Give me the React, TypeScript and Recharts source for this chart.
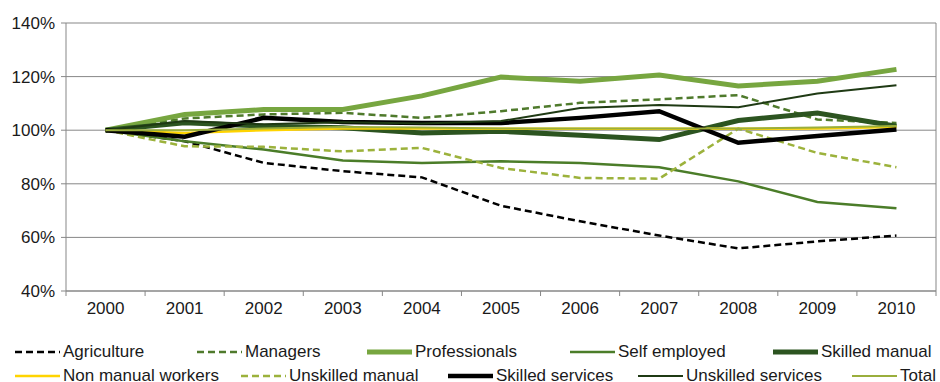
import { CartesianGrid, Line, LineChart, XAxis, YAxis } from "recharts";

const years = ["2000", "2001", "2002", "2003", "2004", "2005", "2006", "2007", "2008", "2009", "2010"];

const agriculture = [100, 95.9, 87.8, 84.7, 82.4, 71.8, 66, 60.7, 55.9, 58.5, 60.7];
const managers = [100, 104.4, 105.9, 106.5, 104.6, 107.1, 110.2, 111.5, 113.1, 104, 102.7];
const professionals = [100, 105.9, 107.7, 107.7, 112.8, 119.8, 118.3, 120.6, 116.5, 118.3, 122.7];
const selfEmployed = [100, 95.9, 92.8, 88.7, 87.8, 88.4, 87.8, 86.2, 80.9, 73.2, 70.9];
const skilledManual = [100, 102.8, 101.5, 100.9, 99, 99.6, 98.1, 96.5, 103.6, 106.4, 101.5];
const nonManual = [100, 99, 100, 100.6, 100.6, 100.5, 100.5, 100.5, 100.5, 100.6, 101.2];
const unskilledManual = [100, 94, 93.8, 92.1, 93.4, 85.9, 82.2, 81.9, 100.6, 91.5, 86.2];
const skilledServices = [100, 97.6, 104.6, 103.1, 102.7, 102.7, 104.6, 107.1, 95.3, 97.8, 100.3];
const unskilledServices = [100, 103.4, 102.2, 103, 102.5, 103.4, 108.3, 109.4, 108.6, 113.7, 116.8];
const total = [100, 100, 100.6, 101.2, 101, 100.6, 100.6, 100.6, 100.6, 101, 101.6];

const yTicks = [40, 60, 80, 100, 120, 140];

const series = [
  { key: "agriculture", name: "Agriculture", values: agriculture, color: "#000000", width: 2.5, dash: "7 4" },
  { key: "managers", name: "Managers", values: managers, color: "#4f7a2c", width: 2.5, dash: "7 4" },
  { key: "professionals", name: "Professionals", values: professionals, color: "#77a640", width: 5 },
  { key: "selfEmployed", name: "Self employed", values: selfEmployed, color: "#4b7d29", width: 2.5 },
  { key: "skilledManual", name: "Skilled manual", values: skilledManual, color: "#2c5420", width: 5 },
  { key: "nonManual", name: "Non manual workers", values: nonManual, color: "#ffd400", width: 2.5 },
  { key: "unskilledManual", name: "Unskilled manual", values: unskilledManual, color: "#9cb23c", width: 2.5, dash: "7 4" },
  { key: "skilledServices", name: "Skilled services", values: skilledServices, color: "#000000", width: 4.5 },
  { key: "unskilledServices", name: "Unskilled services", values: unskilledServices, color: "#1f3a14", width: 2 },
  { key: "total", name: "Total", values: total, color: "#9aae3c", width: 2 },
];

// legend is laid out like the Excel original: two rows, uneven spacing
const legendLeft = [15, 197, 367, 570, 773, 15, 241, 448, 638, 852];

const data = years.map((year, i) => {
  const row: Record<string, number | string> = { year };
  series.forEach((s) => (row[s.key] = s.values[i]));
  return row;
});

const FONT = "'Liberation Sans', Arial, sans-serif";
const GRID = "#878787";
const PLOT_LEFT = 66;
const PLOT_RIGHT = 936;
const BAND = (PLOT_RIGHT - PLOT_LEFT) / years.length;

function YearTick(props: any) {
  const { x, y, payload, index } = props;
  return (
    <g>
      <line x1={x - BAND / 2} x2={x - BAND / 2} y1={y} y2={y + 5} stroke={GRID} />
      {index === years.length - 1 && <line x1={x + BAND / 2} x2={x + BAND / 2} y1={y} y2={y + 5} stroke={GRID} />}
      <text x={x} y={y + 23} textAnchor="middle" fill="#1a1a1a" fontSize={17} fontFamily={FONT}>
        {payload.value}
      </text>
    </g>
  );
}

export default function App() {
  return (
    <div style={{ position: "absolute", left: 0, top: 0, width: 940, height: 382, background: "#fff", fontFamily: FONT, overflow: "hidden" }}>
      <LineChart width={940} height={382} data={data} margin={{ top: 23, right: 3, bottom: 61, left: 0 }}>
        <CartesianGrid vertical={false} stroke={GRID} />
        <XAxis
          dataKey="year"
          height={30}
          padding={{ left: BAND / 2, right: BAND / 2 }}
          tickSize={0}
          tickMargin={0}
          tickLine={false}
          axisLine={{ stroke: GRID }}
          tick={<YearTick />}
          interval={0}
        />
        <YAxis
          width={66}
          domain={[40, 140]}
          ticks={yTicks}
          tickFormatter={(v) => `${v}%`}
          tickSize={5}
          tickMargin={6}
          tickLine={{ stroke: GRID }}
          axisLine={{ stroke: GRID }}
          tick={{ fill: "#1a1a1a", fontSize: 17, fontFamily: FONT }}
        />
        <YAxis yAxisId="right" orientation="right" width={1} domain={[40, 140]} tick={false} tickLine={false} axisLine={{ stroke: GRID }} />
        {series.map((s) => (
          <Line
            key={s.key}
            type="linear"
            dataKey={s.key}
            name={s.name}
            stroke={s.color}
            strokeWidth={s.width}
            strokeDasharray={s.dash}
            dot={false}
            isAnimationActive={false}
          />
        ))}
      </LineChart>
      {series.map((s, i) => (
        <div
          key={s.key}
          style={{
            position: "absolute",
            left: legendLeft[i],
            top: i < 5 ? 342 : 366,
            height: 20,
            display: "flex",
            alignItems: "center",
            fontSize: 17,
            color: "#1a1a1a",
            whiteSpace: "nowrap",
          }}
        >
          <svg width={45} height={10} style={{ marginRight: 3 }}>
            <line x1={0} x2={45} y1={5} y2={5} stroke={s.color} strokeWidth={s.width} strokeDasharray={s.dash} />
          </svg>
          <span>{s.name}</span>
        </div>
      ))}
    </div>
  );
}
